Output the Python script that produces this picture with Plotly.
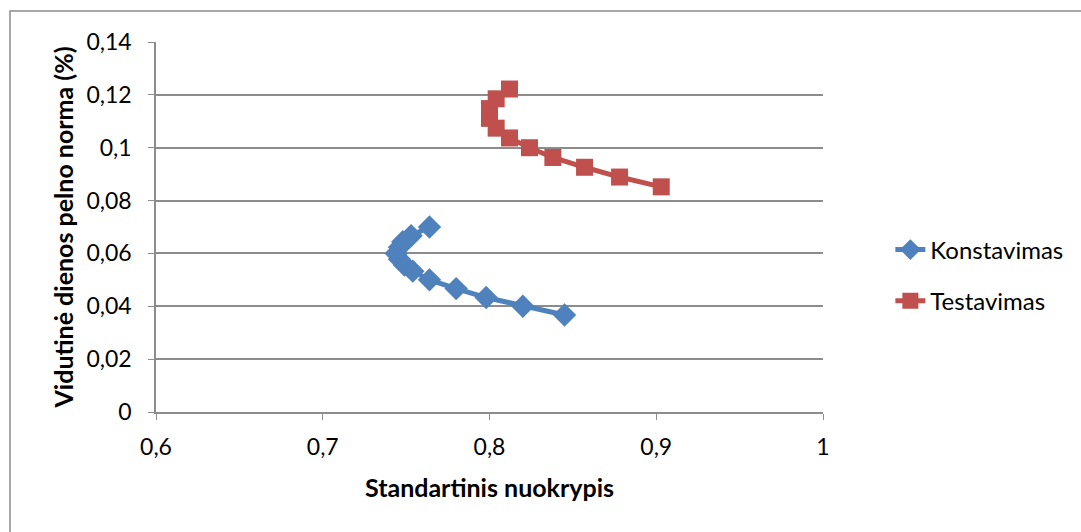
import plotly.graph_objects as go

# Efficient-frontier style data: standard deviation vs. mean daily return
konst_x = [0.845, 0.820, 0.798, 0.780, 0.764, 0.754, 0.749, 0.746, 0.744, 0.746, 0.748, 0.753, 0.764]
konst_y = [0.0367, 0.0400, 0.0433, 0.0467, 0.0500, 0.0533, 0.0556, 0.0578, 0.0600, 0.0623, 0.0644, 0.0667, 0.0700]

test_x = [0.903, 0.878, 0.857, 0.838, 0.824, 0.812, 0.804, 0.800, 0.800, 0.804, 0.812]
test_y = [0.0852, 0.0889, 0.0926, 0.0963, 0.1000, 0.1037, 0.1074, 0.1111, 0.1148, 0.1185, 0.1222]

x_ticks = [0.6, 0.7, 0.8, 0.9, 1.0]
x_labels = ["0,6", "0,7", "0,8", "0,9", "1"]
y_ticks = [0, 0.02, 0.04, 0.06, 0.08, 0.10, 0.12, 0.14]
y_labels = ["0", "0,02", "0,04", "0,06", "0,08", "0,1", "0,12", "0,14"]

FONT = "Lato"
GRID = "#8c8c8c"
FS = 23
TITLE_FS = 25

fig = go.Figure()
fig.add_trace(go.Scatter(
    x=konst_x, y=konst_y, mode="lines+markers", name="Konstavimas",
    legendgroup="a",
    line=dict(color="#4F81BD", width=5),
    marker=dict(symbol="diamond", size=18, color="#4F81BD"),
))
fig.add_trace(go.Scatter(
    x=test_x, y=test_y, mode="lines+markers", name="Testavimas",
    legendgroup="b",
    line=dict(color="#C0504D", width=5),
    marker=dict(symbol="square", size=17, color="#C0504D"),
))

fig.update_layout(
    width=1081, height=532,
    margin=dict(l=156, r=258, t=42, b=120),
    paper_bgcolor="white", plot_bgcolor="white",
    font=dict(family=FONT, size=FS, color="#000000"),
    showlegend=True,
    legend=dict(
        x=1.101, xanchor="left", y=0.369, yanchor="middle",
        xref="paper", yref="paper",
        font=dict(family=FONT, size=24, color="#000000"),
        traceorder="grouped", tracegroupgap=17,
        bgcolor="rgba(0,0,0,0)",
    ),
    xaxis=dict(
        range=[0.6, 1.0], tickvals=x_ticks, ticktext=x_labels,
        showgrid=False, zeroline=False,
        showline=True, linecolor=GRID, linewidth=1.5,
        ticks="outside", ticklen=6, tickcolor=GRID,
        ticklabelstandoff=8,
        tickfont=dict(family=FONT, size=FS),
        title=dict(text="<b>Standartinis nuokrypis</b>", standoff=20,
                   font=dict(family=FONT, size=TITLE_FS)),
    ),
    yaxis=dict(
        range=[0, 0.14], tickvals=y_ticks, ticktext=y_labels,
        showgrid=True, gridcolor=GRID, gridwidth=1.5, zeroline=False,
        showline=True, linecolor=GRID, linewidth=1.5,
        ticks="outside", ticklen=6, tickcolor=GRID,
        ticklabelstandoff=12,
        tickfont=dict(family=FONT, size=FS),
        title=dict(text="<b>Vidutinė dienos pelno norma (%)</b>", standoff=6,
                   font=dict(family=FONT, size=TITLE_FS)),
    ),
    shapes=[dict(
        type="rect", xref="paper", yref="paper",
        x0=-146 / 667, x1=(1081 - 156 + 10) / 667,
        y0=-(532 - 412 + 10) / 370, y1=1 + 31 / 370,
        line=dict(color="#8c8c8c", width=1.5), fillcolor="rgba(0,0,0,0)",
        layer="below",
    )],
)

fig.write_html("out.html")
